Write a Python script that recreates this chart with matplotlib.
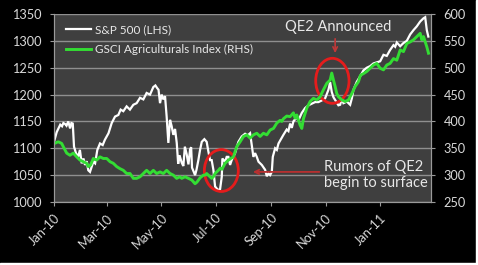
import numpy as np
import matplotlib
matplotlib.use("Agg")
import matplotlib.pyplot as plt
import matplotlib.dates as mdates
from matplotlib.patches import Ellipse, Rectangle

plt.rcParams['font.family'] = ['Lato', 'DejaVu Sans']

# ---- data (days since 2010-01-01) ----
sp_days = [0.5, 3, 5, 7, 9, 10.5, 12.5, 14, 16, 18, 19.5, 21, 22.4, 24.6, 27, 29, 31, 33, 34.7, 36.6,
           38.4, 40.3, 42.2, 44, 46, 48.5, 51.5, 54.5, 57, 61, 64.6, 68.3, 72, 74.6, 77.6, 81.3, 85, 88.8,
           92.5, 96.3, 100, 103.7, 107.5, 111.2, 113.5, 115.5, 117, 118.7, 120.5, 122.4, 124.3, 126.1, 128,
           129.9, 131.7, 133.6, 135.5, 137.4, 139, 140.5, 143, 144.8, 146.5, 148.5, 150.5, 152.3, 153.5,
           154.5, 157.9, 159.5, 161.6, 163.5, 165.4, 168.3, 170.9, 172.8, 174.7, 176.5, 178.4, 180.3, 182.2,
           184.0, 185.9, 187.8, 188.5, 191.5, 193.3, 195.2, 197.1, 198.9, 202.7, 206.4, 210.1, 213.9, 216.9,
           219.5, 221.4, 223.2, 225.1, 227.0, 228.9, 232.6, 236.3, 238.2, 240.1, 241.9, 243.8, 244.9, 247.5,
           249.4, 251.3, 253, 256.8, 260.5, 262.4, 264.3, 266.2, 268.0, 271.8, 273.6, 277.4, 281.1, 284.8,
           288.5, 292.3, 296.0, 299.7, 303.5, 307.2, 309.1, 310.9, 312.8, 314.7, 318.4, 320.3, 322.2, 324.0,
           327.8, 331.5, 333.4, 335.2, 339.0, 342.7, 346.4, 350.1, 353.9, 357.6, 361.3, 365.1, 368.8, 372.5,
           376.2, 380.0, 381.9, 383.7, 387.5, 391.2, 394.9, 398.7, 402.4, 406.1, 409.9, 413.6, 415.5, 417.3,
           419]
sp_vals = [1115, 1130, 1137, 1144, 1141, 1147, 1145, 1142, 1150, 1137, 1147, 1146, 1103, 1091, 1084, 1097,
           1072, 1081, 1069, 1076, 1059, 1056, 1066, 1075, 1072, 1097, 1109, 1106, 1116, 1128, 1147, 1159,
           1162, 1172, 1169, 1178, 1172, 1181, 1184, 1194, 1191, 1203, 1200, 1214, 1217, 1212, 1209, 1184,
           1200, 1191, 1197, 1159, 1110, 1153, 1141, 1125, 1136, 1110, 1071, 1087, 1073, 1067, 1103, 1089,
           1070, 1098, 1102, 1064, 1050, 1060, 1078, 1097, 1112, 1117, 1112, 1094, 1078, 1078, 1060, 1029,
           1025, 1022, 1024, 1047, 1081, 1075, 1084, 1084, 1069, 1078, 1091, 1112, 1122, 1127, 1124, 1128,
           1106, 1084, 1091, 1084, 1075, 1069, 1060, 1048, 1053, 1050, 1056, 1084, 1100, 1097, 1109, 1114,
           1125, 1135, 1132, 1146, 1138, 1150, 1158, 1152, 1166, 1175, 1180, 1183, 1186, 1186, 1189, 1193,
           1209, 1223, 1205, 1195, 1190, 1180, 1181, 1193, 1184, 1187, 1181, 1193, 1209, 1224, 1234, 1245,
           1250, 1253, 1258, 1260, 1262, 1274, 1272, 1283, 1292, 1289, 1297, 1290, 1296, 1300, 1312, 1320,
           1327, 1336, 1342, 1344, 1320, 1308]

ag_days = [0.5, 3, 5, 8.6, 10.4, 14.2, 17.9, 21.6, 25.4, 29.1, 32.8, 36.6, 38.4, 41.0, 44.0, 47.8, 51.5,
           55.2, 59.0, 62.7, 66.4, 70.1, 73.9, 77.6, 81.3, 85.1, 88.8, 92.5, 96.3, 100, 103.7, 107.5, 111.2,
           114.9, 118.7, 122.4, 126.1, 129.9, 133.6, 137.3, 141.0, 143.0, 146.7, 150.4, 154.2, 157.9, 160,
           163.5, 167.2, 169.1, 170.9, 172.8, 174.7, 176.5, 178.4, 180.3, 182.2, 184, 186, 188, 191.5, 195.2,
           200.8, 204.5, 208.3, 212.0, 215.8, 219.5, 223.2, 227.0, 230.7, 234.4, 238.2, 241.9, 245.7, 249.4,
           253.1, 255.0, 256.8, 260.5, 264.3, 268.0, 269.9, 271.8, 275.5, 277.4, 279.2, 283.0, 286.7, 290.4,
           294.2, 297.9, 301.6, 305.4, 309.1, 310.9, 312.8, 314.7, 316.5, 318.4, 322.2, 325.9, 329.6, 333.4,
           337.1, 340.8, 343, 346.4, 350.1, 353.9, 357.6, 361.3, 365.1, 368.8, 372.5, 376.2, 380.0, 383.7,
           387.5, 391.2, 394.9, 398.7, 402.4, 406.1, 409.9, 411.7, 413.6, 415.5, 417.3, 419.2]
ag_vals = [359, 361, 362, 359, 353, 341, 337, 341, 334, 328, 325, 322, 316, 319, 331, 328, 334, 331, 331,
           325, 322, 316, 312, 309, 303, 303, 294, 294, 297, 303, 309, 303, 309, 303, 306, 303, 309, 303,
           300, 294, 297, 294, 297, 294, 291, 284, 287, 295, 300, 300, 303, 300, 297, 294, 297, 303, 306,
           309, 313, 311, 322, 328, 334, 353, 362, 372, 375, 369, 375, 378, 372, 378, 375, 384, 387, 397,
           402, 400, 405, 410, 409, 416, 406, 412, 393, 387, 405, 425, 437, 443, 440, 446, 459, 471, 477,
           490, 477, 465, 452, 446, 440, 437, 440, 452, 465, 474, 486, 489, 493, 499, 505, 508, 499, 496,
           505, 508, 517, 514, 533, 530, 545, 548, 552, 558, 564, 552, 558, 548, 539, 527]

sp_label = "S&P 500 (LHS)"
ag_label = "GSCI Agriculturals Index (RHS)"
left_ticks = [1000, 1050, 1100, 1150, 1200, 1250, 1300, 1350]
right_ticks = [250, 300, 350, 400, 450, 500, 550, 600]

W, H = 478, 265
fig = plt.figure(figsize=(W / 100, H / 100), dpi=100)
fig.patch.set_facecolor('black')
# thin white frame at right/bottom edge
fig.add_artist(Rectangle((0, 0), 1, 2.2 / H, transform=fig.transFigure, color='white', zorder=-5))
fig.add_artist(Rectangle((1 - 2.5 / W, 0), 2.5 / W, 1, transform=fig.transFigure, color='white', zorder=-5))

ax = fig.add_axes([54 / W, 1 - 202 / H, (431 - 54) / W, (202 - 14) / H])
ax.set_facecolor('#3f3f3f')
ax2 = ax.twinx()

base = mdates.date2num(np.datetime64('2010-01-01'))
sp_x = base + np.array(sp_days)
ag_x = base + np.array(ag_days)

l1, = ax.plot(sp_x, sp_vals, color='white', lw=1.6, solid_joinstyle='miter')
l2, = ax2.plot(ag_x, ag_vals, color='#33dd33', lw=2.1)

ax.set_ylim(1000, 1350)
ax2.set_ylim(250, 600)
ax.set_xlim(base, base + 422)
ax.set_yticks(left_ticks)
ax2.set_yticks(right_ticks)
ax.yaxis.grid(True, color='#8f8f8f', lw=1)
ax.set_axisbelow(True)

ax.xaxis.set_major_locator(mdates.MonthLocator(bymonth=[1, 3, 5, 7, 9, 11]))
ax.xaxis.set_major_formatter(mdates.DateFormatter('%b-%y'))

tc = '#d9d9d9'
for a in (ax, ax2):
    a.spines['top'].set_visible(False)
    for s in ('left', 'right', 'bottom'):
        a.spines[s].set_color('#9a9a9a')
    a.tick_params(colors='#9a9a9a', labelcolor=tc, labelsize=9.2, length=3, width=0.8)
ax.tick_params(axis='y', pad=6)
ax2.tick_params(axis='y', pad=6)
ax.tick_params(axis='x', pad=4)
for lbl in ax.get_xticklabels():
    lbl.set_rotation(45)
    lbl.set_ha('right')
    lbl.set_rotation_mode('anchor')

leg = ax2.legend([l1, l2], [sp_label, ag_label], loc='upper left',
                 bbox_to_anchor=(66 / W, 1 - 24 / H), bbox_transform=fig.transFigure,
                 frameon=False, fontsize=8.5, handlelength=2.1, handletextpad=0.35,
                 labelspacing=0.75, borderpad=0, borderaxespad=0)
for t in leg.get_texts():
    t.set_color('#e8e8e8')

# annotations
red = '#e51c1c'
ax.add_patch(Ellipse((base + 311.6, 1225.6), 37.3, 83.8, fill=False, ec=red, lw=2, zorder=5))
ax.add_patch(Ellipse((base + 187.3, 1058.6), 38, 78, fill=False, ec=red, lw=2, zorder=5))

ax.text(base + 318, 1326, "QE2 Announced", color='#e8e8e8', fontsize=10.5, ha='center', va='center')
ax.annotate("", xy=(base + 314.7, 1272), xytext=(base + 314.7, 1309),
            arrowprops=dict(arrowstyle='->', color='#c03838', lw=1.2, mutation_scale=8))
ax.annotate("", xy=(base + 219.5, 1056), xytext=(base + 300.1, 1056),
            arrowprops=dict(arrowstyle='->', color='#b83030', lw=1.3, mutation_scale=8))
ax.text(base + 302.4, 1050, "Rumors of QE2\nbegin to surface", color='#e8e8e8', fontsize=10.5,
        ha='left', va='center', linespacing=1.15)

fig.savefig('out.png', dpi=100, facecolor=fig.get_facecolor())
